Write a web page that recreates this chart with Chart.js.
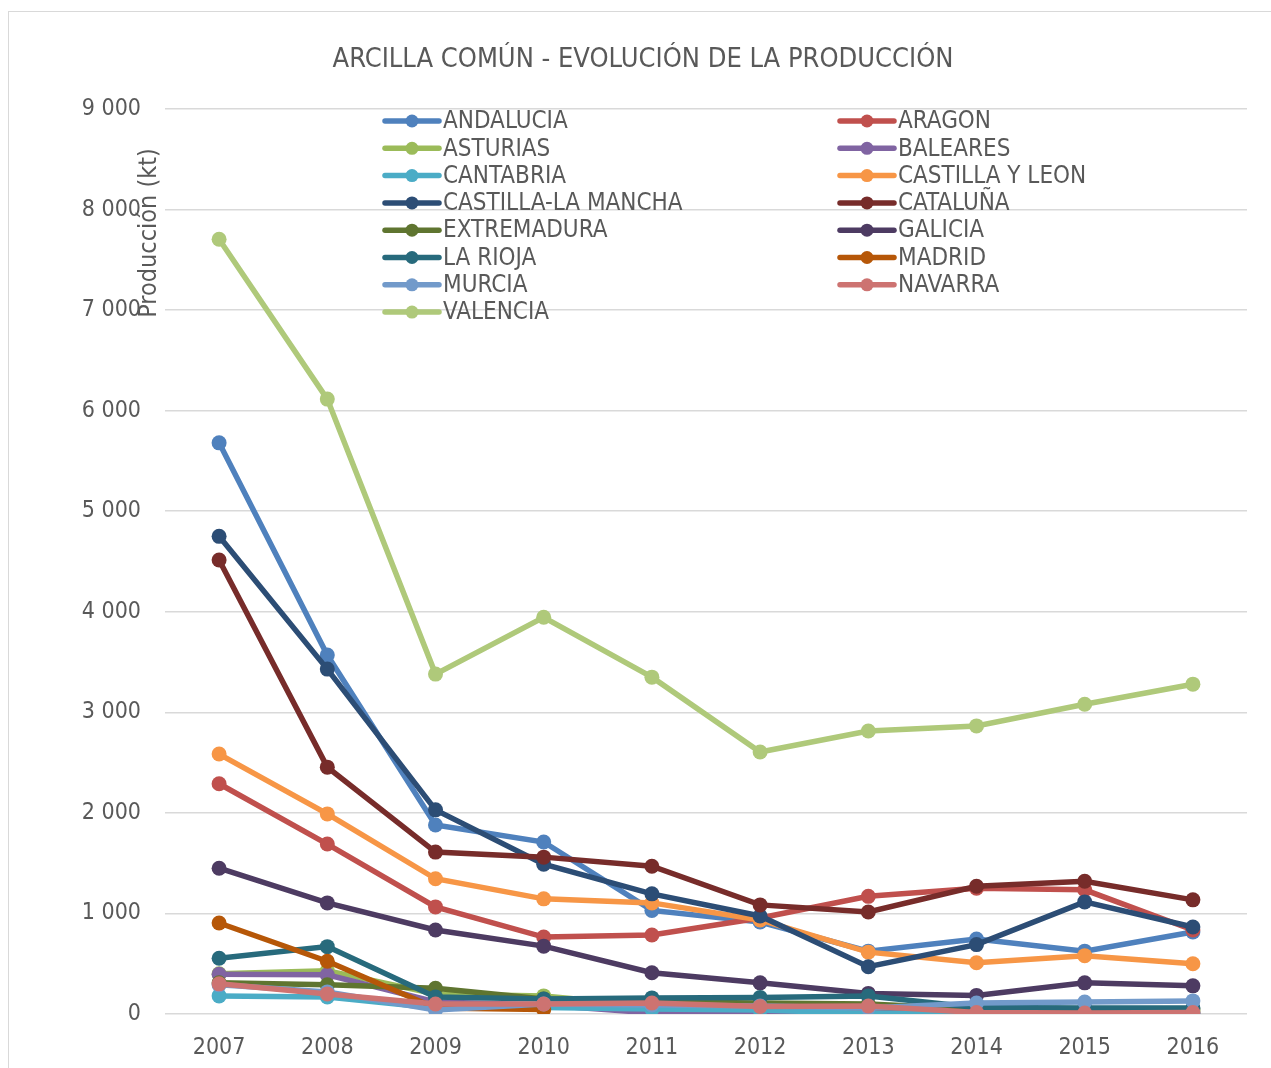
<!DOCTYPE html>
<html>
<head>
<meta charset="utf-8">
<script src="https://cdn.jsdelivr.net/npm/chart.js@4.4.1/dist/chart.umd.min.js"></script>
<style>
    html, body { margin: 0; padding: 0; background: #fff; }
    #wrap { width: 1271px; height: 1068px; position: relative; }
</style>
</head>
<body>
<div id="wrap"><canvas id="produccion"></canvas></div>
<script>
// 연도 (x축)
const years = ['2007', '2008', '2009', '2010', '2011', '2012', '2013', '2014', '2015', '2016'];

// 지역 이름 / 색상
const regions = ['ANDALUCIA', 'ARAGON', 'ASTURIAS', 'BALEARES', 'CANTABRIA', 'CASTILLA Y LEON',
    'CASTILLA-LA MANCHA', 'CATALUÑA', 'EXTREMADURA', 'GALICIA', 'LA RIOJA', 'MADRID',
    'MURCIA', 'NAVARRA', 'VALENCIA'];
const regionColors = ['#4F81BD', '#C0504D', '#9BBB59', '#8064A2', '#4BACC6', '#F79646',
    '#2C4D75', '#772C2A', '#5F7530', '#4D3B62', '#276A7C', '#B65708',
    '#729ACA', '#CD7371', '#AFC97A'];

// 생산량 (kt)
const andalucia = [5680, 3570, 1880, 1710, 1030, 915, 625, 745, 625, 815];
const aragon = [2290, 1690, 1065, 765, 785, 955, 1170, 1250, 1235, 835];
const asturias = [400, 430, 200, 180, 80, 60, 40, 30, 30, 30];
const baleares = [395, 390, 120, 90, 10, 10, 10, 10, 10, 10];
const cantabria = [180, 170, 60, 65, 50, 40, 5, 5, 5, 5];
const castillaLeon = [2585, 1990, 1345, 1145, 1105, 935, 615, 510, 580, 500];
const castillaMancha = [4750, 3430, 2030, 1490, 1195, 975, 470, 690, 1115, 865];
const cataluna = [4515, 2455, 1610, 1560, 1470, 1085, 1015, 1270, 1320, 1135];
const extremadura = [310, 290, 255, 150, 120, 110, 100, 50, 50, 50];
const galicia = [1450, 1105, 835, 675, 410, 310, 205, 185, 310, 280];
const laRioja = [555, 670, 170, 150, 160, 165, 180, 65, 60, 60];
const madrid = [905, 525, 60, 45, null, null, null, null, null, null];
const murcia = [290, 220, 40, 100, 90, 80, 60, 110, 120, 130];
const navarra = [300, 200, 100, 100, 110, 75, 80, 15, 10, 15];
const valencia = [7705, 6115, 3380, 3945, 3350, 2605, 2815, 2865, 3080, 3280];

const seriesValues = [andalucia, aragon, asturias, baleares, cantabria, castillaLeon,
    castillaMancha, cataluna, extremadura, galicia, laRioja, madrid, murcia, navarra, valencia];

const FONT = "'DejaVu Sans Condensed', 'Liberation Sans Narrow', sans-serif";
const TEXT_COLOR = '#595959';

function fmt(v) {
    return String(v).replace(/\B(?=(\d{3})+(?!\d))/g, ' ');
}

// 제목, 축 제목, 범례, 테두리 그리기 (엑셀 모양 흉내)
const excelDecor = {
    id: 'excelDecor',
    afterDraw: chart => {
        const ctx = chart.ctx;
        ctx.save();
        // 바깥 테두리
        ctx.strokeStyle = '#d9d9d9';
        ctx.lineWidth = 1;
        ctx.strokeRect(8.5, 11.5, 1400, 1200);

        // 제목
        ctx.fillStyle = TEXT_COLOR;
        ctx.font = '27px ' + FONT;
        ctx.textAlign = 'center';
        ctx.textBaseline = 'middle';
        ctx.fillText('ARCILLA COMÚN - EVOLUCIÓN DE LA PRODUCCIÓN', 643, 60);

        // y축 제목
        ctx.save();
        ctx.translate(149, 233);
        ctx.rotate(-Math.PI / 2);
        ctx.font = '25px ' + FONT;
        ctx.fillText('Producción (kt)', 0, 0);
        ctx.restore();

        // 범례 (2열)
        ctx.font = '24px ' + FONT;
        ctx.textAlign = 'left';
        chart.data.datasets.forEach((ds, i) => {
            const col = i % 2;
            const row = Math.floor(i / 2);
            const x = 385 + col * 455;
            const y = 121 + row * 27.3;
            ctx.strokeStyle = ds.borderColor;
            ctx.lineWidth = 5.5;
            ctx.lineCap = 'round';
            ctx.beginPath();
            ctx.moveTo(x, y);
            ctx.lineTo(x + 54, y);
            ctx.stroke();
            ctx.fillStyle = ds.borderColor;
            ctx.beginPath();
            ctx.arc(x + 27, y, 6.5, 0, Math.PI * 2);
            ctx.fill();
            ctx.fillStyle = TEXT_COLOR;
            ctx.fillText(ds.label, x + 58, y + 1);
        });
        ctx.restore();
    }
};

document.addEventListener('DOMContentLoaded', () => {
    const ctx = document.getElementById('produccion').getContext('2d');
    const datasets = regions.map((name, i) => ({
        label: name,
        data: seriesValues[i],
        borderColor: regionColors[i],
        backgroundColor: regionColors[i],
        borderWidth: 5.5,
        pointRadius: 7.5,
        pointHoverRadius: 7.5,
        pointBorderWidth: 0,
        fill: false,
        tension: 0,
        spanGaps: false,
        order: regions.length - i // 엑셀처럼 뒤 시리즈가 위에 오도록
    }));

    new Chart(ctx, {
        type: 'line',
        data: { labels: years, datasets: datasets },
        options: {
            responsive: true,
            maintainAspectRatio: false,
            animation: false,
            layout: { padding: { top: 109, right: 24, left: 0, bottom: 0 } },
            plugins: {
                legend: { display: false },
                title: { display: false },
                tooltip: { enabled: false }
            },
            scales: {
                x: {
                    offset: true,
                    grid: { display: false, drawTicks: false },
                    border: { display: false },
                    ticks: {
                        color: TEXT_COLOR,
                        padding: 20,
                        font: { size: 23, family: FONT }
                    },
                    afterFit: scale => { scale.height = 54; }
                },
                y: {
                    min: 0,
                    max: 9000,
                    grid: { color: '#d9d9d9', lineWidth: 1.5, drawTicks: false },
                    border: { display: false },
                    ticks: {
                        stepSize: 1000,
                        color: TEXT_COLOR,
                        padding: 24,
                        font: { size: 23, family: FONT },
                        callback: v => fmt(v)
                    },
                    afterFit: scale => { scale.width = 165; }
                }
            }
        },
        plugins: [excelDecor]
    });
});
</script>
</body>
</html>
